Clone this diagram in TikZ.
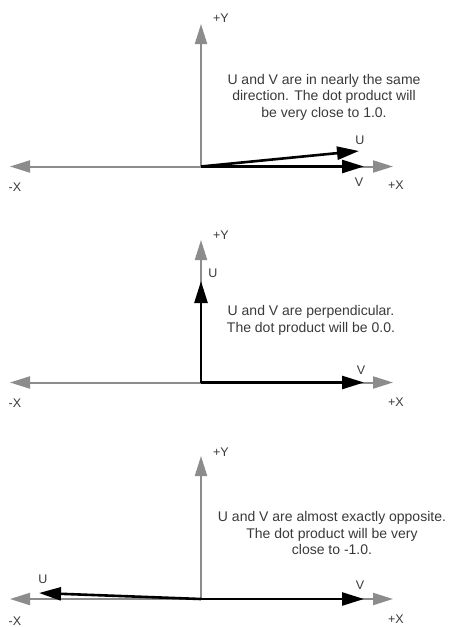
\documentclass[tikz,border=0pt]{standalone}
\usepackage{fontspec}
\setmainfont{Liberation Sans}
\usetikzlibrary{arrows.meta}
\definecolor{axisgrey}{HTML}{8C8C8C}
\definecolor{txtgrey}{HTML}{3A3A3A}
\tikzset{
  axis/.style={draw=axisgrey, line width=2pt, -{Triangle[length=20pt,width=12pt]}},
  vec/.style={draw=black, line width=2.6pt, -{Triangle[length=22pt,width=13pt]}},
  lbl/.style={text=txtgrey, font=\fontsize{12.5}{14}\selectfont, inner sep=0pt},
  note/.style={text=txtgrey, font=\fontsize{14}{16.6}\selectfont, align=center, inner sep=0pt}
}
\begin{document}
\begin{tikzpicture}[x=1pt,y=-1pt]
\useasboundingbox[fill=white] (0,0) rectangle (450,627);
% ---------- panel 1
\coordinate (o1) at (201,166.5);
\coordinate (y1) at (201,24);
\coordinate (xl1) at (10,166.5);
\coordinate (xr1) at (393,166.5);
\coordinate (u1) at (359,151);
\coordinate (v1) at (364,166.5);
\draw[axis] (o1) -- (xl1);
\draw[axis] (o1) -- (xr1);
\draw[axis] (o1) -- (y1);
\draw[vec] (o1) -- (u1);
\draw[vec] (o1) -- (v1);
\node[lbl] (py1) at (221,18) {+Y};
\node[lbl] (mx1) at (15,187) {-X};
\node[lbl] (px1) at (396,185) {+X};
\node[lbl] (ul1) at (360,140) {U};
\node[lbl] (vl1) at (359,182) {V};
\node[note] (t1) at (324,97) {U and V are in nearly the same\\direction. The dot product will\\be very close to 1.0.};
% ---------- panel 2
\coordinate (o2) at (201,382.5);
\coordinate (y2) at (201,240);
\coordinate (xl2) at (10,382.5);
\coordinate (xr2) at (393,382.5);
\coordinate (u2) at (201,281);
\coordinate (v2) at (364,382.5);
\draw[axis] (o2) -- (xl2);
\draw[axis] (o2) -- (xr2);
\draw[axis] (o2) -- (y2);
\draw[vec] (o2) -- (u2);
\draw[vec] (o2) -- (v2);
\node[lbl] (py2) at (221,235) {+Y};
\node[lbl] (mx2) at (15,403) {-X};
\node[lbl] (px2) at (396,402) {+X};
\node[lbl] (ul2) at (213,273) {U};
\node[lbl] (vl2) at (361,370) {V};
\node[note] (t2) at (311,320.5) {U and V are perpendicular.\\The dot product will be 0.0.};
% ---------- panel 3
\coordinate (o3) at (201,599);
\coordinate (y3) at (201,456);
\coordinate (xl3) at (10,599);
\coordinate (xr3) at (393,599);
\coordinate (u3) at (39,593);
\coordinate (v3) at (364,599);
\draw[axis] (o3) -- (xl3);
\draw[axis] (o3) -- (xr3);
\draw[axis] (o3) -- (y3);
\draw[vec] (o3) -- (u3);
\draw[vec] (o3) -- (v3);
\node[lbl] (py3) at (221,452) {+Y};
\node[lbl] (mx3) at (15,621) {-X};
\node[lbl] (px3) at (396,619) {+X};
\node[lbl] (ul3) at (43,579) {U};
\node[lbl] (vl3) at (360,585) {V};
\node[note] (t3) at (332,533.3) {U and V are almost exactly opposite.\\The dot product will be very\\close to -1.0.};
\end{tikzpicture}
\end{document}
